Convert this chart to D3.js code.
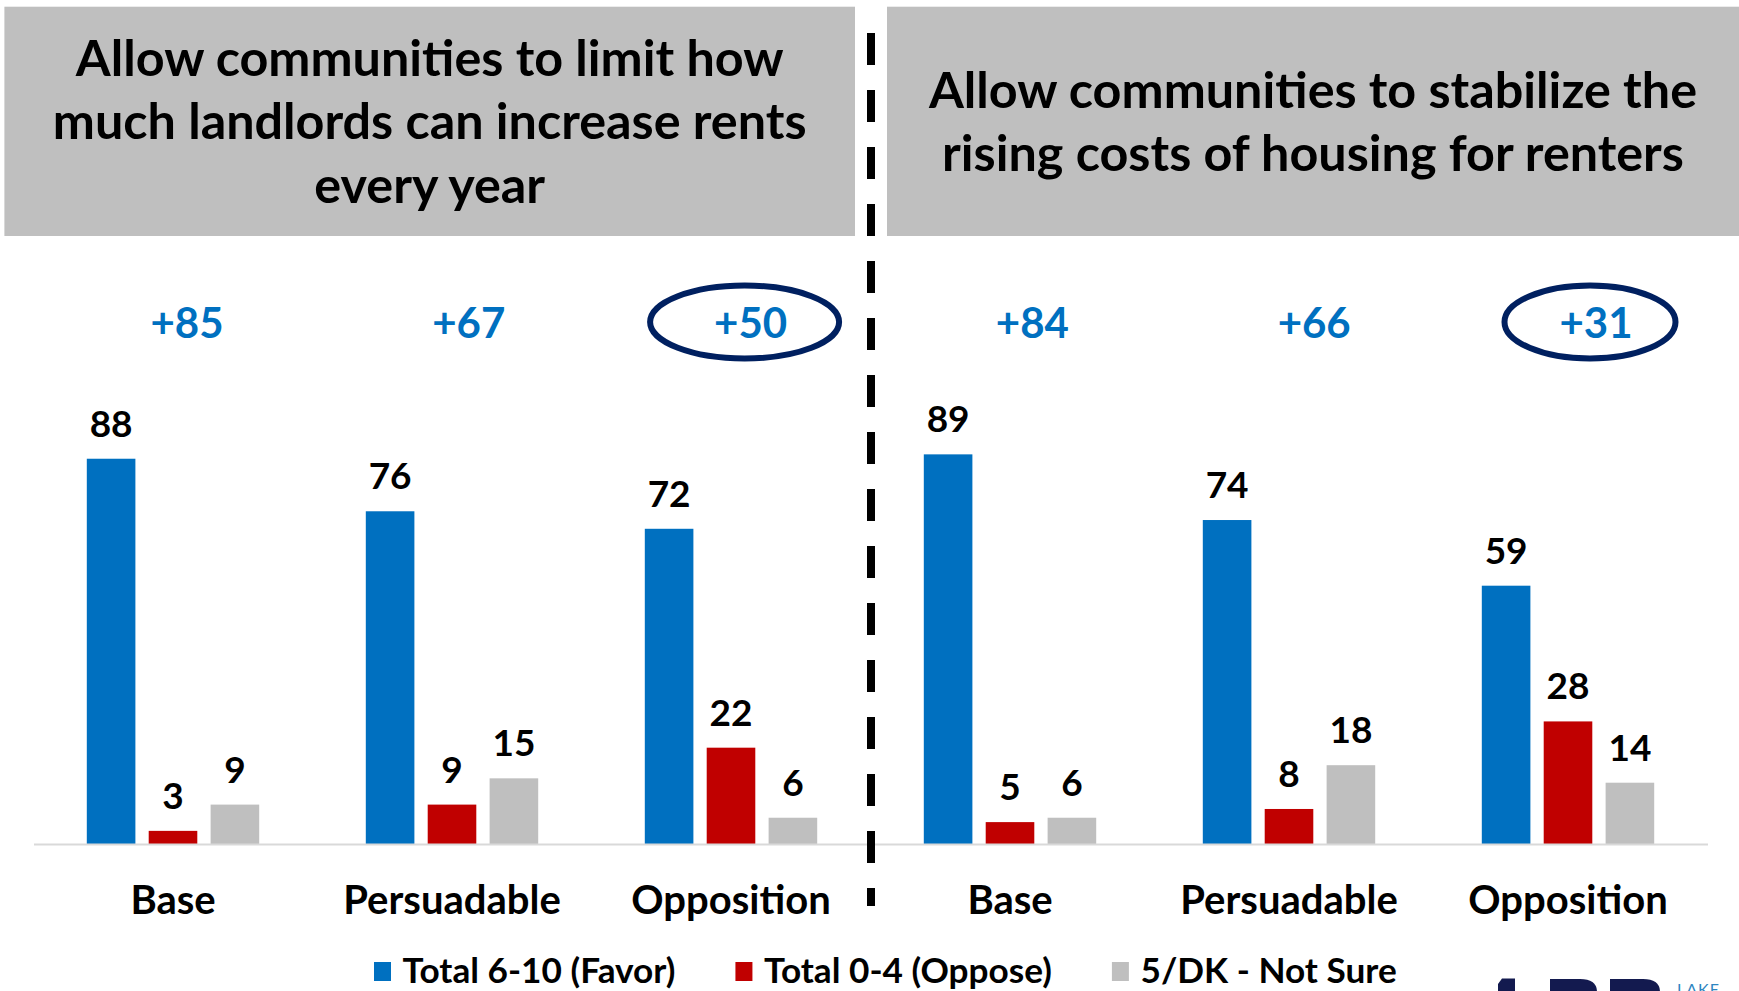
<!DOCTYPE html>
<html>
<head>
<meta charset="utf-8">
<script src="https://cdn.jsdelivr.net/npm/d3@7"></script>
<style>
  html, body { margin: 0; padding: 0; background: #fff; }
  svg { display: block; font-family: Lato, "Open Sans", sans-serif; }
</style>
</head>
<body>
<svg id="chart" width="1739" height="991"></svg>
<script>
// Survey groups, repeated for each of the two policy statements
const categories = ["Base", "Persuadable", "Opposition"];
const statements = [
  ["Allow communities to limit how", "much landlords can increase rents", "every year"],
  ["Allow communities to stabilize the", "rising costs of housing for renters"]
];
const seriesNames = ["Total 6-10 (Favor)", "Total 0-4 (Oppose)", "5/DK - Not Sure"];
const seriesColors = ["#0070c0", "#c00000", "#bfbfbf"];

// Values in order: statement 1 (Base, Persuadable, Opposition), statement 2 (same)
const favor   = [88, 76, 72, 89, 74, 59];
const oppose  = [3, 9, 22, 5, 8, 28];
const notSure = [9, 15, 6, 6, 18, 14];
// Groups whose net score is circled
const circled = [2, 5];

const groups = d3.range(favor.length);
const series = [favor, oppose, notSure];
const net = groups.map(i => favor[i] - oppose[i]);

const svg = d3.select("#chart");

// ---- Statement header boxes ----
const headerBoxes = [{x0: 4.4, x1: 855}, {x0: 887, x1: 1739}];
const headerTop = 6.7, headerBottom = 236, lineGap = 63.5, titleSize = 50.3;
statements.forEach((lines, p) => {
  const b = headerBoxes[p];
  svg.append("rect")
    .attr("x", b.x0).attr("y", headerTop)
    .attr("width", b.x1 - b.x0).attr("height", headerBottom - headerTop)
    .attr("fill", "#bfbfbf");
  const cx = (b.x0 + b.x1) / 2, cy = (headerTop + headerBottom) / 2;
  const t = svg.append("text")
    .attr("text-anchor", "middle")
    .attr("font-weight", 700)
    .attr("font-size", titleSize)
    .attr("fill", "#000");
  lines.forEach((ln, i) => {
    t.append("tspan")
      .attr("x", cx)
      .attr("y", cy + (i - (lines.length - 1) / 2) * lineGap + titleSize * 0.36)
      .text(ln);
  });
});

// ---- Scales ----
const x0 = d3.scaleBand().domain(groups).range([33.5, 1707.5]);
const x1 = d3.scaleBand().domain(d3.range(series.length))
  .range([0, x0.bandwidth()]).paddingInner(0.215).paddingOuter(0.861);
const y = d3.scaleLinear().domain([0, 100]).range([844, 406.2]);
const netX = d3.scalePoint().domain(groups).range([187, 1596]);

// ---- Bars ----
const g = svg.append("g");
const cells = groups.flatMap(i => series.map((s, k) => ({i, k, v: s[i]})));
g.selectAll("rect.bar").data(cells).join("rect")
  .attr("class", "bar")
  .attr("x", d => x0(d.i) + x1(d.k))
  .attr("y", d => y(d.v))
  .attr("width", x1.bandwidth())
  .attr("height", d => y(0) - y(d.v))
  .attr("fill", d => seriesColors[d.k]);

g.selectAll("text.val").data(cells).join("text")
  .attr("class", "val")
  .attr("x", d => x0(d.i) + x1(d.k) + x1.bandwidth() / 2)
  .attr("y", d => y(d.v) - 22)
  .attr("text-anchor", "middle")
  .attr("font-size", 37)
  .attr("font-weight", 700)
  .attr("fill", "#000")
  .text(d => d.v);

// ---- Category axis ----
const axis = svg.append("g")
  .attr("transform", `translate(0,${y(0)})`)
  .call(d3.axisBottom(x0).tickSize(0).tickSizeOuter(0)
    .tickFormat(i => categories[i % categories.length]));
axis.select(".domain").attr("stroke", "#d9d9d9").attr("stroke-width", 2);
axis.selectAll(".tick text")
  .attr("y", 70).attr("dy", 0)
  .attr("font-family", "Lato, sans-serif")
  .attr("font-size", 40)
  .attr("font-weight", 700)
  .attr("fill", "#000");

// ---- Net (favor minus oppose) labels ----
const netY = 338;
svg.selectAll("ellipse.ring").data(circled).join("ellipse")
  .attr("class", "ring")
  .attr("cx", i => netX(i) - 6)
  .attr("cy", netY - 16)
  .attr("rx", i => (i === 2 ? 94.5 : 85.5))
  .attr("ry", 36.5)
  .attr("fill", "none")
  .attr("stroke", "#002060")
  .attr("stroke-width", 6);

svg.selectAll("text.net").data(groups).join("text")
  .attr("class", "net")
  .attr("x", i => netX(i))
  .attr("y", netY)
  .attr("text-anchor", "middle")
  .attr("font-size", 42)
  .attr("font-weight", 700)
  .attr("fill", "#0070c0")
  .text(i => "+" + net[i]);

// ---- Dashed divider between the two statements ----
svg.append("line")
  .attr("x1", 871).attr("x2", 871)
  .attr("y1", 33).attr("y2", 906)
  .attr("stroke", "#000")
  .attr("stroke-width", 8)
  .attr("stroke-dasharray", "32,25");

// ---- Legend ----
const legend = svg.append("g");
let lx = 374;
seriesNames.forEach((name, k) => {
  legend.append("rect")
    .attr("x", lx).attr("y", 962)
    .attr("width", 17).attr("height", 19)
    .attr("fill", seriesColors[k]);
  const t = legend.append("text")
    .attr("x", lx + 28.6).attr("y", 982.6)
    .attr("font-size", 35.2)
    .attr("font-weight", 700)
    .attr("fill", "#000")
    .text(name);
  lx = lx + 28.6 + t.node().getComputedTextLength() + 60;
});

// ---- Organisation logo (bottom right, partly cut off) ----
const logo = svg.append("g").attr("fill", "#131a4f");
logo.append("path").attr("d", "M1502,978.5 L1515,978.5 L1515,995 L1498,995 L1498,984 Z");
logo.append("path").attr("d", "M1550,995 V979 H1580 Q1597,979 1597,992 V995 Z");
logo.append("path").attr("d", "M1610,995 V979 H1643 Q1660,979 1660,992 V995 Z");
svg.append("text")
  .attr("x", 1677).attr("y", 995)
  .attr("font-size", 16)
  .attr("letter-spacing", 1)
  .attr("fill", "#2e86c1")
  .text("LAKE");
</script>
</body>
</html>
